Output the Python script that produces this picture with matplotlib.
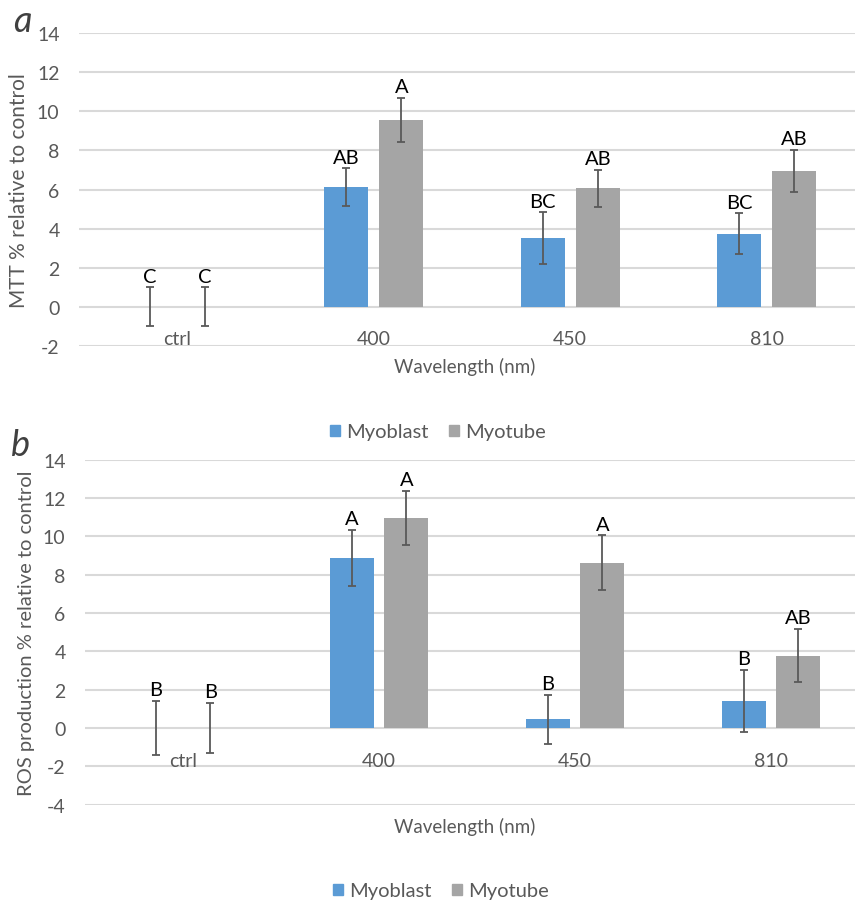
import numpy as np
import matplotlib
matplotlib.use("Agg")
import matplotlib.pyplot as plt
from matplotlib.patches import Patch

# --- dados ---
categorias = ["ctrl", "400", "450", "810"]

mtt_myoblast = [0.0, 6.13, 3.50, 3.73]
mtt_myoblast_err = [1.0, 0.95, 1.33, 1.05]
mtt_myotube = [0.0, 9.55, 6.07, 6.94]
mtt_myotube_err = [1.0, 1.13, 0.95, 1.09]
mtt_letras_myoblast = ["C", "AB", "BC", "BC"]
mtt_letras_myotube = ["C", "A", "AB", "AB"]

ros_myoblast = [0.0, 8.87, 0.45, 1.40]
ros_myoblast_err = [1.41, 1.46, 1.27, 1.63]
ros_myotube = [0.0, 10.95, 8.62, 3.78]
ros_myotube_err = [1.32, 1.42, 1.43, 1.38]
ros_letras_myoblast = ["B", "A", "B", "B"]
ros_letras_myotube = ["B", "A", "A", "AB"]

AZUL = "#5B9BD5"
CINZA = "#A5A5A5"
TEXTO = "#595959"
GRADE = "#D9D9D9"
ERRO = "#595959"

plt.rcParams['font.family'] = ['Lato', 'DejaVu Sans']
plt.rcParams['axes.unicode_minus'] = False

fig = plt.figure(figsize=(8.55, 9.03), dpi=100)


def painel(ax, v1, e1, v2, e2, l1, l2, ymin, ylabel, ylabel_size):
    x = np.arange(len(categorias))
    w = 0.225
    off = 0.14
    ax.bar(x - off, v1, w, color=AZUL, zorder=2)
    ax.bar(x + off, v2, w, color=CINZA, zorder=2)
    for xs, v, e, letras in [(x - off, v1, e1, l1), (x + off, v2, e2, l2)]:
        ax.errorbar(xs, v, yerr=e, fmt="none", ecolor=ERRO, elinewidth=1.3,
                    capsize=3.2, capthick=1.3, zorder=3)
        for xi, vi, ei, t in zip(xs, v, e, letras):
            ax.annotate(t, xy=(xi, vi + ei), xytext=(0, 2), textcoords="offset points",
                        ha="center", va="bottom", fontsize=14.5, color="black")
    for xi, c in zip(x, categorias):
        ax.annotate(c, xy=(xi, 0), xytext=(0, -32), textcoords="offset pixels",
                    ha="center", va="center", fontsize=14, color=TEXTO)
    ax.set_xlim(-0.5, len(categorias) - 0.5)
    ax.set_ylim(ymin, 14)
    ax.set_yticks(np.arange(ymin, 15, 2))
    ax.set_xticks([])
    ax.yaxis.grid(True, color=GRADE, linewidth=1.5, zorder=0)
    ax.set_axisbelow(True)
    for s in ax.spines.values():
        s.set_visible(False)
    ax.tick_params(axis="y", length=0, pad=14, labelsize=14, labelcolor=TEXTO)
    ax.set_ylabel(ylabel, fontsize=ylabel_size, color=TEXTO, labelpad=6)


ax1 = fig.add_axes([79 / 855, 1 - 347 / 903, 786 / 855, 313 / 903])
painel(ax1, mtt_myoblast, mtt_myoblast_err, mtt_myotube, mtt_myotube_err,
       mtt_letras_myoblast, mtt_letras_myotube, -2, "MTT % relative to control", 15)

ax2 = fig.add_axes([85 / 855, 1 - 805.7 / 903, 784 / 855, 345 / 903])
painel(ax2, ros_myoblast, ros_myoblast_err, ros_myotube, ros_myotube_err,
       ros_letras_myoblast, ros_letras_myotube, -4,
       "ROS production % relative to control", 14.5)

fig.text(465 / 855, 1 - 367 / 903, "Wavelength (nm)", ha="center", va="center",
         fontsize=13.5, color=TEXTO)
fig.text(465 / 855, 1 - 827 / 903, "Wavelength (nm)", ha="center", va="center",
         fontsize=13.5, color=TEXTO)

handles = [Patch(color=AZUL, label="Myoblast"), Patch(color=CINZA, label="Myotube")]
for xc, yc in [(438, 433), (441, 892)]:
    fig.legend(handles=handles, loc="center", bbox_to_anchor=(xc / 855, 1 - yc / 903),
               ncol=2, frameon=False, fontsize=14.5, labelcolor=TEXTO,
               handlelength=0.5, handleheight=0.5, handletextpad=0.3, columnspacing=1.0)

fig.text(22 / 855, 1 - 22 / 903, "a", fontsize=26, style="italic", color="#404040",
         ha="center", va="center")
fig.text(20 / 855, 1 - 446 / 903, "b", fontsize=26, style="italic", color="#404040",
         ha="center", va="center")

fig.savefig("out.png", dpi=100)
